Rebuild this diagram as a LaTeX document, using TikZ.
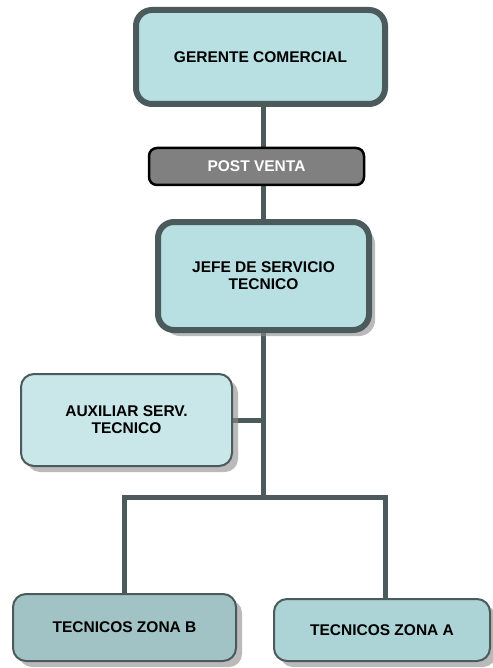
\documentclass[tikz,border=0pt]{standalone}
\usepackage{fontspec}
\setmainfont{Liberation Sans}
\usetikzlibrary{shadows,backgrounds}
\definecolor{edgegray}{HTML}{4B5A5A}
\definecolor{tealA}{HTML}{B8DFE2}
\definecolor{tealB}{HTML}{C9E6E9}
\definecolor{tealC}{HTML}{A2C3C5}
\definecolor{tealD}{HTML}{ACD3D5}
\definecolor{pvgray}{HTML}{808080}
\tikzset{
  boxbase/.style={rectangle, align=center, inner sep=2pt,
    font=\bfseries\fontsize{15.5}{17}\selectfont, text=black},
  heavybox/.style={boxbase, draw=edgegray, line width=6pt, rounded corners=16pt},
  lightbox/.style={boxbase, draw=edgegray, line width=2pt, rounded corners=13pt},
  shade/.style={drop shadow={shadow xshift=6pt, shadow yshift=-6pt,
    fill=black!45, opacity=0.6}},
  conn/.style={draw=edgegray, line width=5pt, line join=miter},
}
\begin{document}
\begin{tikzpicture}[x=1pt,y=-1pt]
\useasboundingbox (0,0) rectangle (492,668);

% boxes of the chart
\node[heavybox, fill=tealA, minimum width=249pt, minimum height=94pt]
  (ger) at (260.5,57) {GERENTE COMERCIAL};
\node[boxbase, draw=black, line width=2.5pt, rounded corners=8pt, fill=pvgray,
  text=white, minimum width=215pt, minimum height=37pt]
  (pv) at (256.5,166.5) {POST VENTA};
\node[heavybox, shade, fill=tealA, minimum width=211pt, minimum height=108pt]
  (jefe) at (263.5,276) {JEFE DE SERVICIO\\TECNICO};
\node[lightbox, shade, fill=tealB, minimum width=211pt, minimum height=92pt]
  (aux) at (126.5,420) {AUXILIAR SERV.\\TECNICO};
\node[lightbox, shade, fill=tealC, minimum width=223pt, minimum height=67pt]
  (zb) at (124.5,627.5) {TECNICOS ZONA B};
\node[lightbox, shade, fill=tealD, minimum width=216pt, minimum height=62pt]
  (za) at (382,630) {TECNICOS ZONA A};

% branching points of the lower bus
\coordinate (bl) at (124,497);
\coordinate (br) at (385,497);

\begin{scope}[on background layer]
  \draw[conn] (jefe.north |- ger.south) -- (jefe.north);
  \draw[conn] (jefe.south) -- (jefe.south |- bl);
  \draw[conn] (aux.east) -- (aux.east -| jefe.south);
  \draw[conn] (zb.north -| bl) -- (bl) -- (br) -- (za.north -| br);
\end{scope}
\end{tikzpicture}
\end{document}
